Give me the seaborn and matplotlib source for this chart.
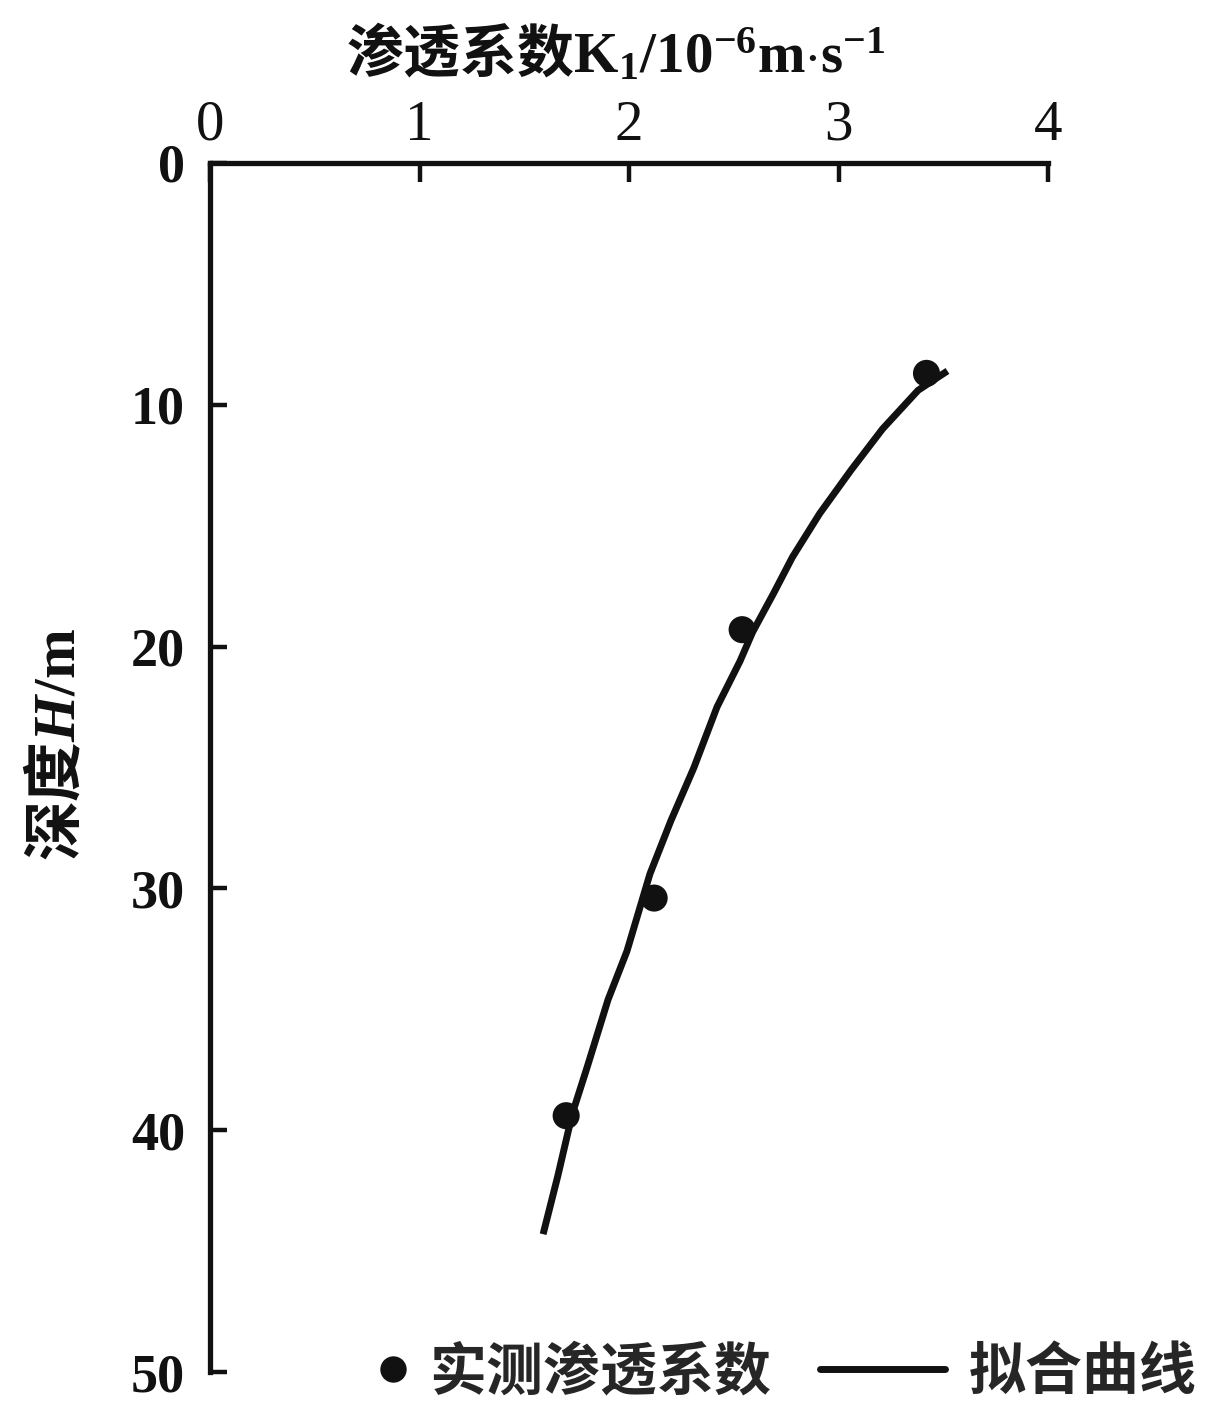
import matplotlib
matplotlib.use("Agg")
import matplotlib.pyplot as plt
import seaborn as sns
import pandas as pd
from matplotlib.lines import Line2D

# ---- data ----
k_measured = [3.42, 2.54, 2.12, 1.70]
h_measured = [8.7, 19.3, 30.4, 39.4]

k_fit = [3.52, 3.38, 3.21, 3.06, 2.91, 2.78, 2.69, 2.59, 2.53, 2.42, 2.31, 2.20,
         2.10, 1.99, 1.90, 1.80, 1.73, 1.66, 1.59]
h_fit = [8.6, 9.4, 11.0, 12.7, 14.5, 16.3, 17.8, 19.4, 20.6, 22.5, 25.0, 27.2,
         29.4, 32.6, 34.6, 37.4, 39.3, 41.9, 44.3]

x_ticks = [0, 1, 2, 3, 4]
y_ticks = [0, 10, 20, 30, 40, 50]
label_measured = "实测渗透系数"
label_fit = "拟合曲线"

sns.set_theme(style="white")
plt.rcParams['font.family'] = ['Liberation Serif', 'Noto Sans CJK SC', 'DejaVu Sans']
plt.rcParams['mathtext.fontset'] = 'custom'
plt.rcParams['mathtext.rm'] = 'Liberation Serif:bold'
plt.rcParams['mathtext.it'] = 'Liberation Serif:italic:bold'
plt.rcParams['mathtext.bf'] = 'Liberation Serif:bold'

fig = plt.figure(figsize=(12.2, 14.18), dpi=100)
ax = fig.add_axes([210/1220, 1-1372/1418, (1048-210)/1220, (1372-163)/1418])

df_m = pd.DataFrame({"K": k_measured, "H": h_measured})
df_f = pd.DataFrame({"K": k_fit, "H": h_fit})

sns.lineplot(data=df_f, x="K", y="H", sort=False, color="#111111", linewidth=5,
             ax=ax, zorder=2, solid_joinstyle='round', solid_capstyle='butt')
sns.scatterplot(data=df_m, x="K", y="H", color="#111111", s=380, edgecolor="none",
                ax=ax, zorder=3)

ax.set_xlim(0, 4)
ax.set_ylim(50, 0)
ax.xaxis.tick_top()
ax.xaxis.set_label_position('top')
ax.set_xticks(x_ticks)
ax.set_yticks(y_ticks)
ax.set_xticklabels([str(v) for v in x_ticks], fontsize=41, family='Liberation Serif')
ax.set_yticklabels([str(v) for v in y_ticks], fontsize=39, family='Liberation Serif',
                   fontweight='bold')

for s in ['right', 'bottom']:
    ax.spines[s].set_visible(False)
for s in ['left', 'top']:
    ax.spines[s].set_linewidth(3.8)
    ax.spines[s].set_color('#111111')

ax.tick_params(axis='x', direction='in', length=14, width=3.2, pad=8, colors='#111111',
               top=True, bottom=False)
ax.tick_params(axis='y', direction='in', length=12, width=3.2, pad=18, colors='#111111',
               left=True)

ax.set_xlabel("渗透系数$\\mathrm{K_1/10^{-6}m{\\cdot}s^{-1}}$", fontsize=41,
              family=['Noto Sans CJK SC'], fontweight='bold', labelpad=20, color='#111111')
ax.xaxis.label.set_x(0.5 - 13/838)
ax.set_ylabel("深度$H\\mathrm{/m}$", fontsize=43, family=['Noto Sans CJK SC'],
              fontweight='bold', color='#111111')
ax.yaxis.set_label_coords(-0.146, 0.519)

legend_font = {'family': ['Noto Sans CJK SC'], 'weight': 'bold', 'size': 41}
h1 = Line2D([], [], linestyle='none', marker='o', markersize=18, color='#111111')
h2 = Line2D([], [], color='#111111', linewidth=5)
leg1 = ax.legend([h1], [label_measured], loc='center left',
                 bbox_to_anchor=(372/1220, 1-1372/1418), bbox_transform=fig.transFigure,
                 frameon=False, prop=legend_font, handlelength=0.75, handletextpad=0.25,
                 borderpad=0, borderaxespad=0, numpoints=1)
ax.add_artist(leg1)
ax.legend([h2], [label_fit], loc='center right',
          bbox_to_anchor=(1197/1220, 1-1372/1418), bbox_transform=fig.transFigure,
          frameon=False, prop=legend_font, handlelength=2.2, handletextpad=0.42,
          borderpad=0, borderaxespad=0)

fig.savefig("out.png", dpi=100)
